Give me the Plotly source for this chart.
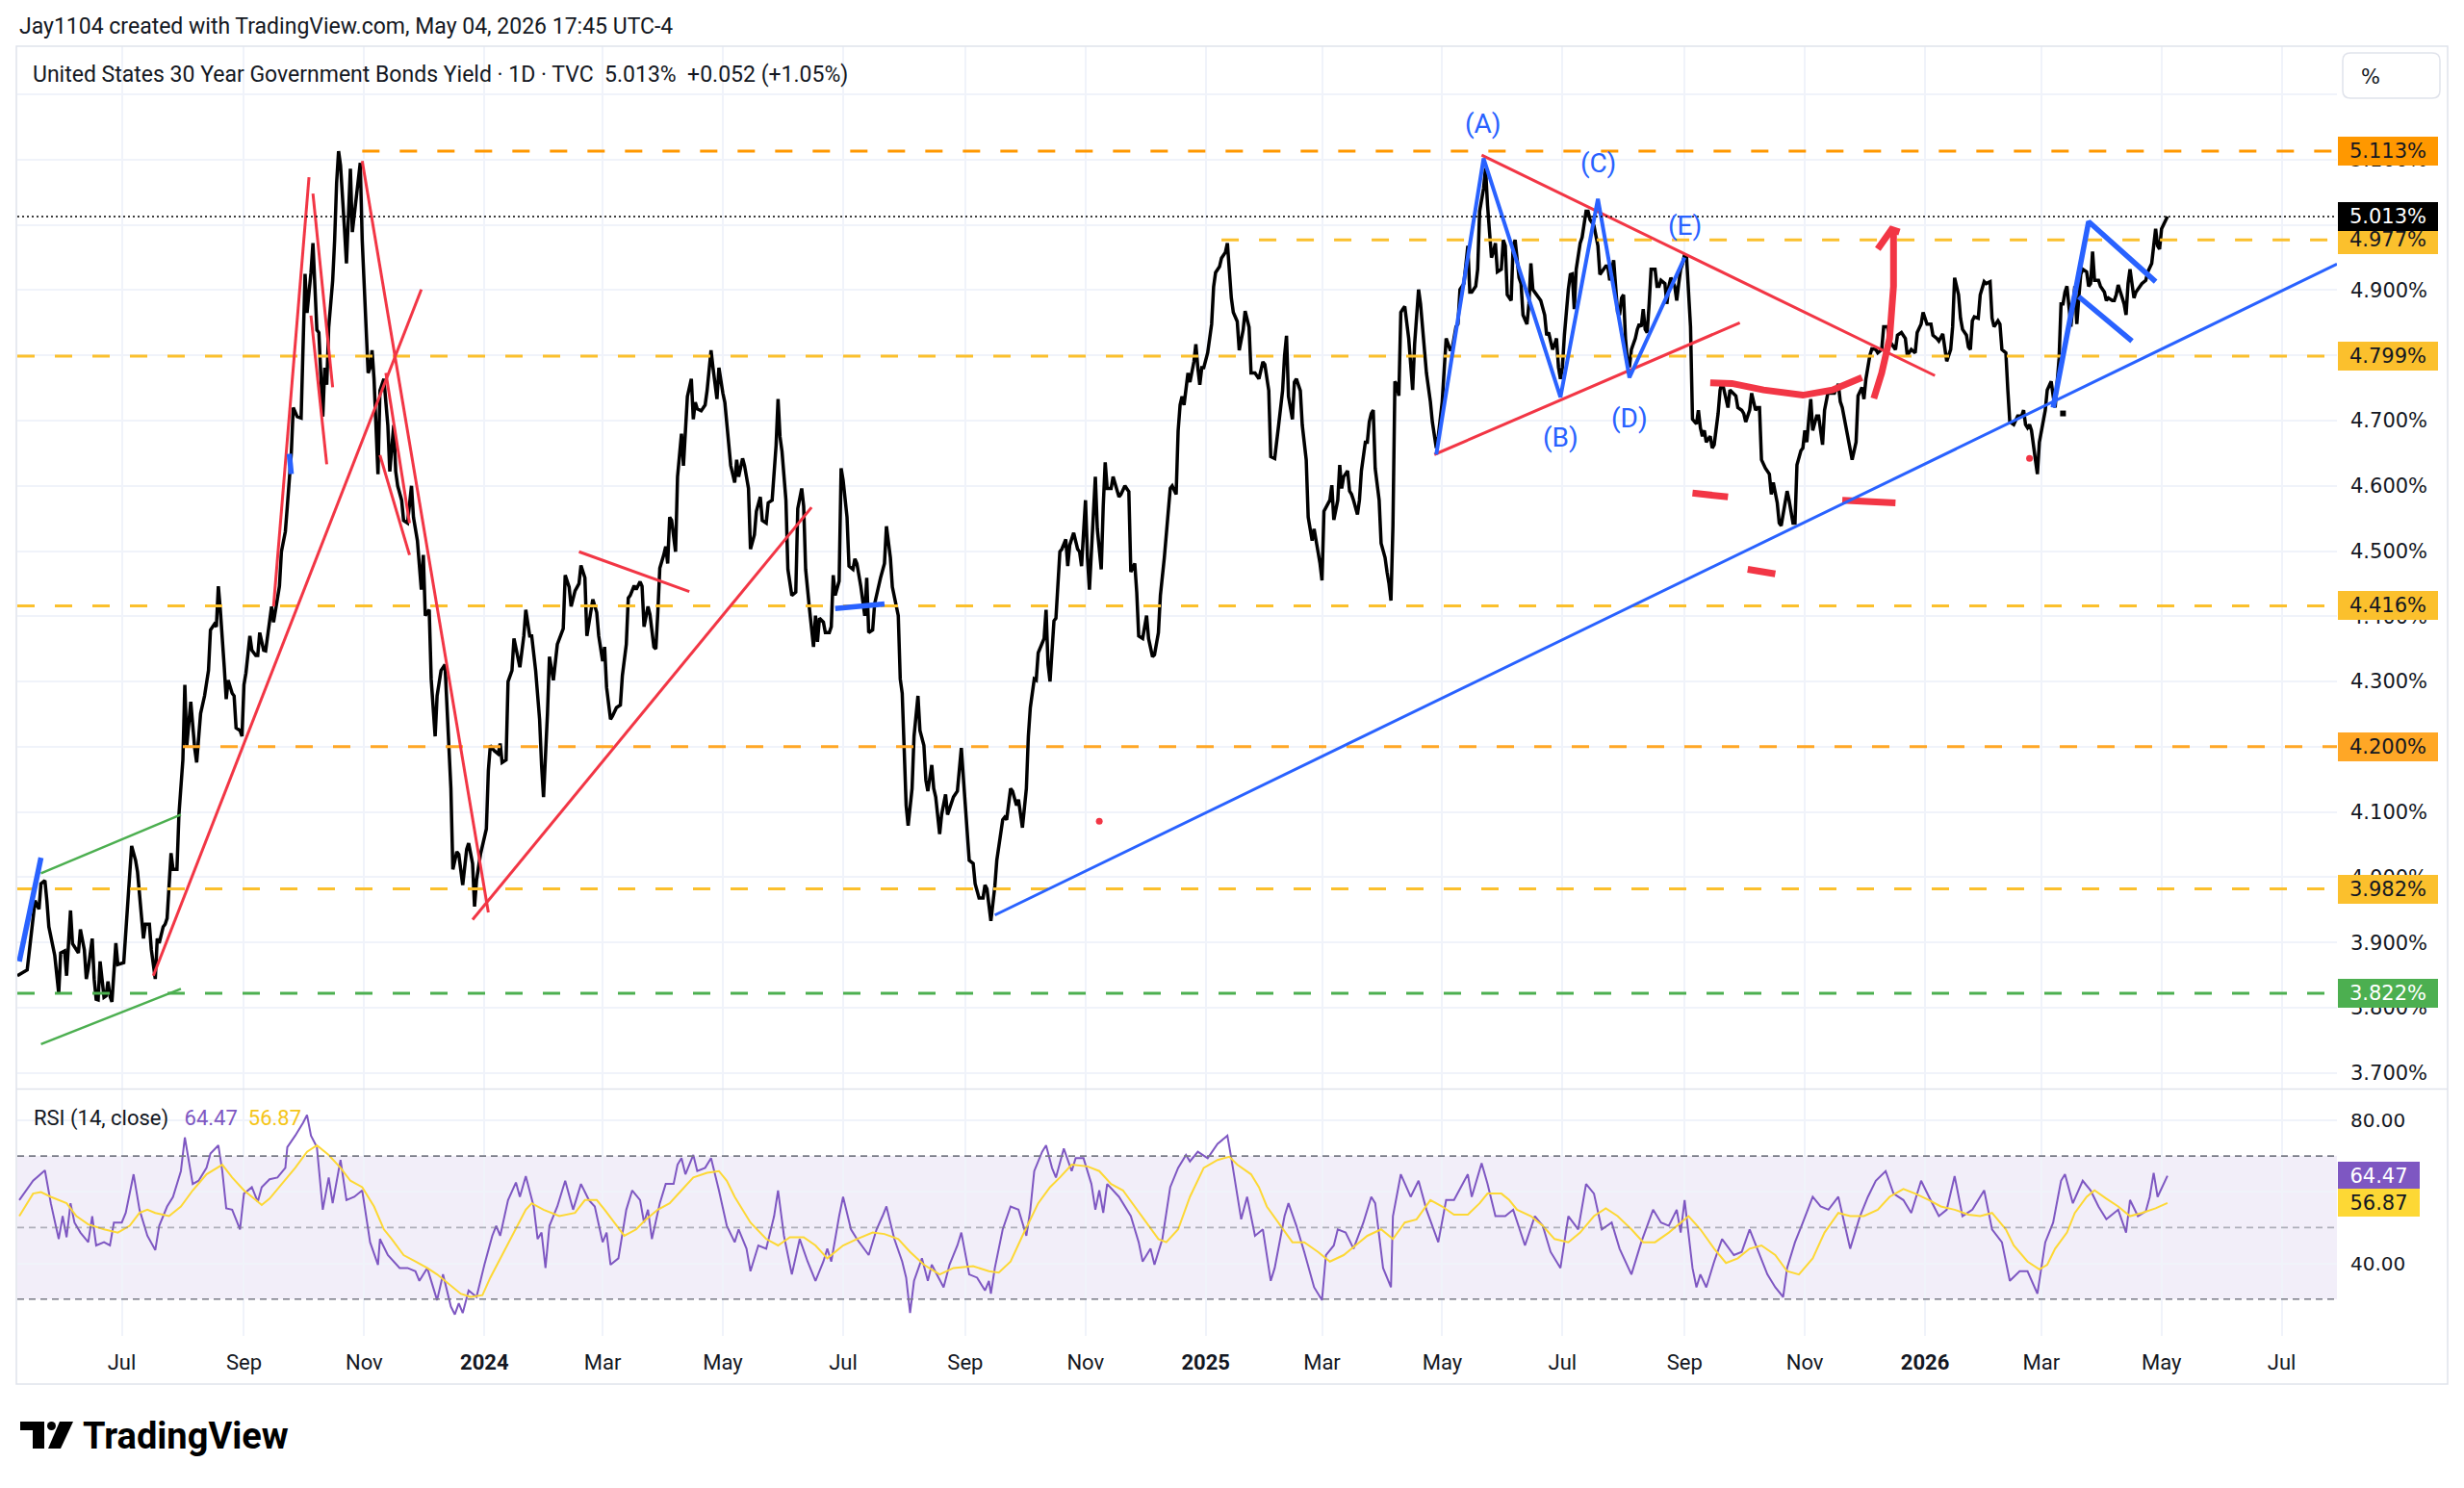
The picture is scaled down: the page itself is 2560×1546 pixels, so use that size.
import pandas as pd
import plotly.graph_objects as go

# ---------------------------------------------------------------------------
# data
# ---------------------------------------------------------------------------
# US 30Y yield (TVC), daily line - turning points
price_dates = [
    "2023-05-09", "2023-05-14", "2023-05-18", "2023-05-20", "2023-05-21", "2023-05-23", "2023-05-24", "2023-05-25",
    "2023-05-28", "2023-05-30", "2023-05-31", "2023-06-02", "2023-06-03", "2023-06-05", "2023-06-06", "2023-06-08",
    "2023-06-09", "2023-06-10", "2023-06-12", "2023-06-13", "2023-06-14", "2023-06-16", "2023-06-17", "2023-06-18",
    "2023-06-19", "2023-06-20", "2023-06-22", "2023-06-23", "2023-06-24", "2023-06-25", "2023-06-26", "2023-06-28",
    "2023-06-29", "2023-07-02", "2023-07-04", "2023-07-06", "2023-07-08", "2023-07-09", "2023-07-12", "2023-07-13",
    "2023-07-15", "2023-07-16", "2023-07-18", "2023-07-19", "2023-07-20", "2023-07-22", "2023-07-23", "2023-07-24",
    "2023-07-26", "2023-07-27", "2023-07-29", "2023-07-30", "2023-08-01", "2023-08-02", "2023-08-03", "2023-08-04",
    "2023-08-05", "2023-08-07", "2023-08-08", "2023-08-10", "2023-08-12", "2023-08-14", "2023-08-15", "2023-08-17",
    "2023-08-18", "2023-08-19", "2023-08-20", "2023-08-22", "2023-08-23", "2023-08-24", "2023-08-26", "2023-08-27",
    "2023-08-28", "2023-08-30", "2023-08-31", "2023-09-01", "2023-09-02", "2023-09-04", "2023-09-05", "2023-09-07",
    "2023-09-08", "2023-09-09", "2023-09-11", "2023-09-12", "2023-09-14", "2023-09-15", "2023-09-16", "2023-09-18",
    "2023-09-19", "2023-09-20", "2023-09-22", "2023-09-23", "2023-09-24", "2023-09-25", "2023-09-26", "2023-09-28",
    "2023-09-30", "2023-10-01", "2023-10-02", "2023-10-03", "2023-10-05", "2023-10-06", "2023-10-08", "2023-10-09",
    "2023-10-10", "2023-10-11", "2023-10-12", "2023-10-13", "2023-10-14", "2023-10-16", "2023-10-17", "2023-10-18",
    "2023-10-19", "2023-10-20", "2023-10-22", "2023-10-23", "2023-10-25", "2023-10-26", "2023-10-27", "2023-10-29",
    "2023-10-30", "2023-10-31", "2023-11-02", "2023-11-03", "2023-11-04", "2023-11-05", "2023-11-06", "2023-11-08",
    "2023-11-09", "2023-11-11", "2023-11-13", "2023-11-14", "2023-11-15", "2023-11-16", "2023-11-17", "2023-11-18",
    "2023-11-20", "2023-11-21", "2023-11-23", "2023-11-24", "2023-11-25", "2023-11-26", "2023-11-28", "2023-11-30",
    "2023-12-01", "2023-12-02", "2023-12-04", "2023-12-05", "2023-12-07", "2023-12-08", "2023-12-10", "2023-12-12",
    "2023-12-13", "2023-12-15", "2023-12-16", "2023-12-18", "2023-12-19", "2023-12-21", "2023-12-23", "2023-12-24",
    "2023-12-26", "2023-12-27", "2023-12-28", "2023-12-30", "2024-01-02", "2024-01-03", "2024-01-04", "2024-01-06",
    "2024-01-08", "2024-01-09", "2024-01-10", "2024-01-12", "2024-01-13", "2024-01-15", "2024-01-16", "2024-01-18",
    "2024-01-19", "2024-01-21", "2024-01-22", "2024-01-24", "2024-01-25", "2024-01-27", "2024-01-29", "2024-01-30",
    "2024-01-31", "2024-02-02", "2024-02-03", "2024-02-05", "2024-02-06", "2024-02-07", "2024-02-10", "2024-02-11",
    "2024-02-13", "2024-02-14", "2024-02-16", "2024-02-18", "2024-02-19", "2024-02-21", "2024-02-22", "2024-02-24",
    "2024-02-25", "2024-02-27", "2024-02-28", "2024-03-01", "2024-03-02", "2024-03-03", "2024-03-05", "2024-03-06",
    "2024-03-08", "2024-03-10", "2024-03-11", "2024-03-13", "2024-03-14", "2024-03-15", "2024-03-17", "2024-03-18",
    "2024-03-20", "2024-03-21", "2024-03-22", "2024-03-24", "2024-03-25", "2024-03-27", "2024-03-28", "2024-03-29",
    "2024-03-30", "2024-04-01", "2024-04-02", "2024-04-03", "2024-04-04", "2024-04-05", "2024-04-07", "2024-04-08",
    "2024-04-09", "2024-04-10", "2024-04-11", "2024-04-12", "2024-04-13", "2024-04-15", "2024-04-16", "2024-04-17",
    "2024-04-18", "2024-04-20", "2024-04-22", "2024-04-23", "2024-04-25", "2024-04-26", "2024-04-28", "2024-04-29",
    "2024-04-30", "2024-05-01", "2024-05-02", "2024-05-04", "2024-05-05", "2024-05-07", "2024-05-08", "2024-05-09",
    "2024-05-11", "2024-05-12", "2024-05-14", "2024-05-15", "2024-05-17", "2024-05-18", "2024-05-20", "2024-05-21",
    "2024-05-23", "2024-05-24", "2024-05-26", "2024-05-28", "2024-05-29", "2024-05-30", "2024-05-31", "2024-06-02",
    "2024-06-03", "2024-06-05", "2024-06-07", "2024-06-08", "2024-06-10", "2024-06-11", "2024-06-12", "2024-06-14",
    "2024-06-16", "2024-06-17", "2024-06-18", "2024-06-19", "2024-06-21", "2024-06-22", "2024-06-24", "2024-06-25",
    "2024-06-26", "2024-06-27", "2024-06-29", "2024-06-30", "2024-07-01", "2024-07-03", "2024-07-04", "2024-07-06",
    "2024-07-07", "2024-07-08", "2024-07-10", "2024-07-12", "2024-07-13", "2024-07-14", "2024-07-16", "2024-07-17",
    "2024-07-19", "2024-07-20", "2024-07-22", "2024-07-23", "2024-07-25", "2024-07-26", "2024-07-29", "2024-07-30",
    "2024-07-31", "2024-08-01", "2024-08-02", "2024-08-03", "2024-08-05", "2024-08-06", "2024-08-08", "2024-08-09",
    "2024-08-11", "2024-08-12", "2024-08-13", "2024-08-15", "2024-08-16", "2024-08-17", "2024-08-19", "2024-08-20",
    "2024-08-22", "2024-08-23", "2024-08-25", "2024-08-26", "2024-08-28", "2024-08-30", "2024-08-31", "2024-09-02",
    "2024-09-03", "2024-09-05", "2024-09-06", "2024-09-08", "2024-09-10", "2024-09-11", "2024-09-12", "2024-09-14",
    "2024-09-16", "2024-09-17", "2024-09-18", "2024-09-20", "2024-09-21", "2024-09-22", "2024-09-24", "2024-09-25",
    "2024-09-27", "2024-09-28", "2024-09-30", "2024-10-02", "2024-10-03", "2024-10-04", "2024-10-06", "2024-10-07",
    "2024-10-08", "2024-10-11", "2024-10-12", "2024-10-13", "2024-10-14", "2024-10-16", "2024-10-17", "2024-10-19",
    "2024-10-20", "2024-10-22", "2024-10-23", "2024-10-24", "2024-10-26", "2024-10-28", "2024-10-29", "2024-10-30",
    "2024-11-01", "2024-11-02", "2024-11-03", "2024-11-05", "2024-11-06", "2024-11-07", "2024-11-09", "2024-11-10",
    "2024-11-11", "2024-11-12", "2024-11-14", "2024-11-15", "2024-11-16", "2024-11-18", "2024-11-19", "2024-11-21",
    "2024-11-23", "2024-11-24", "2024-11-26", "2024-11-27", "2024-11-28", "2024-11-30", "2024-12-02", "2024-12-03",
    "2024-12-05", "2024-12-06", "2024-12-08", "2024-12-09", "2024-12-11", "2024-12-13", "2024-12-14", "2024-12-15",
    "2024-12-17", "2024-12-18", "2024-12-19", "2024-12-20", "2024-12-21", "2024-12-23", "2024-12-24", "2024-12-26",
    "2024-12-27", "2024-12-28", "2024-12-29", "2024-12-30", "2024-12-31", "2025-01-02", "2025-01-04", "2025-01-05",
    "2025-01-06", "2025-01-08", "2025-01-09", "2025-01-11", "2025-01-12", "2025-01-14", "2025-01-15", "2025-01-17",
    "2025-01-18", "2025-01-20", "2025-01-21", "2025-01-23", "2025-01-24", "2025-01-26", "2025-01-28", "2025-01-29",
    "2025-01-30", "2025-01-31", "2025-02-02", "2025-02-03", "2025-02-05", "2025-02-07", "2025-02-09", "2025-02-10",
    "2025-02-11", "2025-02-12", "2025-02-14", "2025-02-15", "2025-02-16", "2025-02-18", "2025-02-19", "2025-02-21",
    "2025-02-22", "2025-02-24", "2025-02-25", "2025-02-28", "2025-03-01", "2025-03-02", "2025-03-04", "2025-03-05",
    "2025-03-06", "2025-03-07", "2025-03-09", "2025-03-10", "2025-03-11", "2025-03-12", "2025-03-14", "2025-03-15",
    "2025-03-16", "2025-03-17", "2025-03-19", "2025-03-20", "2025-03-21", "2025-03-23", "2025-03-24", "2025-03-25",
    "2025-03-26", "2025-03-27", "2025-03-28", "2025-03-30", "2025-03-31", "2025-04-02", "2025-04-03", "2025-04-04",
    "2025-04-05", "2025-04-06", "2025-04-07", "2025-04-08", "2025-04-09", "2025-04-10", "2025-04-11", "2025-04-12",
    "2025-04-14", "2025-04-15", "2025-04-16", "2025-04-17", "2025-04-19", "2025-04-20", "2025-04-21", "2025-04-23",
    "2025-04-25", "2025-04-26", "2025-04-28", "2025-04-29", "2025-05-01", "2025-05-02", "2025-05-03", "2025-05-05",
    "2025-05-06", "2025-05-08", "2025-05-09", "2025-05-10", "2025-05-12", "2025-05-14", "2025-05-15", "2025-05-16",
    "2025-05-18", "2025-05-19", "2025-05-20", "2025-05-22", "2025-05-23", "2025-05-24", "2025-05-25", "2025-05-26",
    "2025-05-27", "2025-05-28", "2025-05-29", "2025-05-31", "2025-06-01", "2025-06-02", "2025-06-03", "2025-06-05",
    "2025-06-06", "2025-06-07", "2025-06-09", "2025-06-10", "2025-06-11", "2025-06-13", "2025-06-14", "2025-06-15",
    "2025-06-16", "2025-06-18", "2025-06-19", "2025-06-20", "2025-06-22", "2025-06-23", "2025-06-24", "2025-06-26",
    "2025-06-27", "2025-06-28", "2025-06-29", "2025-06-30", "2025-07-01", "2025-07-02", "2025-07-04", "2025-07-05",
    "2025-07-06", "2025-07-07", "2025-07-08", "2025-07-10", "2025-07-11", "2025-07-13", "2025-07-14", "2025-07-15",
    "2025-07-17", "2025-07-19", "2025-07-20", "2025-07-22", "2025-07-23", "2025-07-24", "2025-07-25", "2025-07-27",
    "2025-07-28", "2025-07-29", "2025-07-30", "2025-07-31", "2025-08-01", "2025-08-02", "2025-08-03", "2025-08-04",
    "2025-08-05", "2025-08-07", "2025-08-08", "2025-08-09", "2025-08-10", "2025-08-11", "2025-08-12", "2025-08-13",
    "2025-08-14", "2025-08-15", "2025-08-17", "2025-08-18", "2025-08-19", "2025-08-20", "2025-08-22", "2025-08-23",
    "2025-08-24", "2025-08-25", "2025-08-27", "2025-08-28", "2025-08-29", "2025-08-30", "2025-08-31", "2025-09-01",
    "2025-09-02", "2025-09-03", "2025-09-04", "2025-09-05", "2025-09-07", "2025-09-08", "2025-09-09", "2025-09-10",
    "2025-09-11", "2025-09-12", "2025-09-14", "2025-09-15", "2025-09-16", "2025-09-18", "2025-09-19", "2025-09-20",
    "2025-09-22", "2025-09-23", "2025-09-24", "2025-09-26", "2025-09-27", "2025-09-28", "2025-09-30", "2025-10-01",
    "2025-10-02", "2025-10-04", "2025-10-05", "2025-10-07", "2025-10-08", "2025-10-09", "2025-10-10", "2025-10-12",
    "2025-10-14", "2025-10-15", "2025-10-16", "2025-10-18", "2025-10-19", "2025-10-20", "2025-10-22", "2025-10-23",
    "2025-10-24", "2025-10-26", "2025-10-27", "2025-10-28", "2025-10-30", "2025-10-31", "2025-11-01", "2025-11-02",
    "2025-11-03", "2025-11-04", "2025-11-05", "2025-11-07", "2025-11-08", "2025-11-10", "2025-11-11", "2025-11-13",
    "2025-11-14", "2025-11-16", "2025-11-18", "2025-11-19", "2025-11-20", "2025-11-22", "2025-11-24", "2025-11-25",
    "2025-11-27", "2025-11-28", "2025-11-30", "2025-12-01", "2025-12-02", "2025-12-04", "2025-12-05", "2025-12-07",
    "2025-12-08", "2025-12-10", "2025-12-11", "2025-12-13", "2025-12-14", "2025-12-15", "2025-12-17", "2025-12-18",
    "2025-12-20", "2025-12-22", "2025-12-23", "2025-12-25", "2025-12-27", "2025-12-28", "2025-12-30", "2025-12-31",
    "2026-01-02", "2026-01-04", "2026-01-05", "2026-01-07", "2026-01-08", "2026-01-10", "2026-01-11", "2026-01-12",
    "2026-01-14", "2026-01-15", "2026-01-16", "2026-01-18", "2026-01-19", "2026-01-20", "2026-01-22", "2026-01-23",
    "2026-01-24", "2026-01-25", "2026-01-26", "2026-01-28", "2026-01-29", "2026-01-31", "2026-02-01", "2026-02-03",
    "2026-02-04", "2026-02-05", "2026-02-07", "2026-02-08", "2026-02-09", "2026-02-11", "2026-02-12", "2026-02-13",
    "2026-02-15", "2026-02-16", "2026-02-17", "2026-02-19", "2026-02-20", "2026-02-21", "2026-02-22", "2026-02-23",
    "2026-02-24", "2026-02-26", "2026-02-27", "2026-02-28", "2026-03-02", "2026-03-03", "2026-03-04", "2026-03-06",
    "2026-03-07", "2026-03-08", "2026-03-10", "2026-03-11", "2026-03-12", "2026-03-13", "2026-03-14", "2026-03-15",
    "2026-03-16", "2026-03-18", "2026-03-19", "2026-03-20", "2026-03-21", "2026-03-22", "2026-03-24", "2026-03-25",
    "2026-03-26", "2026-03-27", "2026-03-28", "2026-03-30", "2026-03-31", "2026-04-02", "2026-04-03", "2026-04-04",
    "2026-04-06", "2026-04-07", "2026-04-08", "2026-04-09", "2026-04-10", "2026-04-12", "2026-04-13", "2026-04-14",
    "2026-04-15", "2026-04-17", "2026-04-18", "2026-04-20", "2026-04-21", "2026-04-23", "2026-04-24", "2026-04-26",
    "2026-04-27", "2026-04-28", "2026-04-29", "2026-04-30", "2026-05-01", "2026-05-04",
]
price_yield = [
    3.849, 3.858, 3.964, 3.951, 3.990, 3.995, 3.964, 3.924,
    3.880, 3.822, 3.884, 3.887, 3.849, 3.949, 3.898, 3.887,
    3.884, 3.920, 3.889, 3.844, 3.860, 3.906, 3.844, 3.813,
    3.812, 3.871, 3.816, 3.818, 3.840, 3.818, 3.809, 3.899,
    3.866, 3.869, 3.964, 4.048, 4.026, 4.008, 3.906, 3.928,
    3.928, 3.889, 3.844, 3.906, 3.899, 3.924, 3.928, 3.937,
    4.037, 4.012, 4.012, 4.096, 4.180, 4.295, 4.202, 4.233,
    4.269, 4.198, 4.176, 4.251, 4.278, 4.317, 4.379, 4.388,
    4.384, 4.446, 4.410, 4.322, 4.273, 4.302, 4.282, 4.278,
    4.229, 4.225, 4.216, 4.295, 4.313, 4.370, 4.348, 4.340,
    4.340, 4.375, 4.348, 4.347, 4.394, 4.415, 4.391, 4.426,
    4.446, 4.499, 4.530, 4.569, 4.614, 4.649, 4.720, 4.706,
    4.704, 4.799, 4.925, 4.865, 4.927, 4.972, 4.839, 4.835,
    4.764, 4.706, 4.781, 4.755, 4.843, 4.914, 4.976, 5.064,
    5.113, 5.091, 4.994, 4.941, 5.086, 4.989, 5.016, 5.064,
    5.095, 4.976, 4.843, 4.773, 4.781, 4.808, 4.764, 4.618,
    4.746, 4.764, 4.693, 4.622, 4.658, 4.693, 4.622, 4.600,
    4.578, 4.547, 4.543, 4.569, 4.600, 4.552, 4.516, 4.441,
    4.494, 4.401, 4.410, 4.304, 4.216, 4.278, 4.317, 4.326,
    4.269, 4.136, 4.012, 4.039, 4.035, 3.988, 4.043, 4.052,
    4.021, 3.955, 3.995, 4.035, 4.074, 4.163, 4.202, 4.194,
    4.189, 4.205, 4.176, 4.180, 4.300, 4.317, 4.366, 4.335,
    4.322, 4.370, 4.410, 4.370, 4.370, 4.317, 4.242, 4.172,
    4.123, 4.251, 4.338, 4.302, 4.326, 4.357, 4.381, 4.463,
    4.445, 4.415, 4.439, 4.450, 4.478, 4.459, 4.370, 4.410,
    4.426, 4.406, 4.370, 4.331, 4.353, 4.291, 4.242, 4.247,
    4.260, 4.264, 4.309, 4.357, 4.428, 4.432, 4.447, 4.441,
    4.453, 4.446, 4.384, 4.415, 4.403, 4.353, 4.350, 4.406,
    4.474, 4.494, 4.507, 4.481, 4.552, 4.547, 4.499, 4.614,
    4.649, 4.680, 4.631, 4.689, 4.737, 4.764, 4.702, 4.728,
    4.718, 4.715, 4.724, 4.746, 4.808, 4.781, 4.733, 4.781,
    4.759, 4.742, 4.728, 4.667, 4.631, 4.605, 4.640, 4.614,
    4.642, 4.631, 4.596, 4.503, 4.525, 4.561, 4.583, 4.547,
    4.543, 4.574, 4.578, 4.662, 4.733, 4.675, 4.653, 4.578,
    4.472, 4.432, 4.437, 4.565, 4.596, 4.569, 4.472, 4.410,
    4.353, 4.401, 4.361, 4.397, 4.391, 4.375, 4.375, 4.384,
    4.463, 4.432, 4.454, 4.627, 4.609, 4.552, 4.477, 4.472,
    4.488, 4.481, 4.446, 4.401, 4.459, 4.375, 4.379, 4.419,
    4.450, 4.459, 4.481, 4.538, 4.490, 4.445, 4.401, 4.304,
    4.282, 4.180, 4.110, 4.079, 4.136, 4.216, 4.278, 4.225,
    4.202, 4.149, 4.132, 4.172, 4.136, 4.123, 4.066, 4.096,
    4.127, 4.096, 4.114, 4.123, 4.132, 4.198, 4.154, 4.066,
    4.026, 4.021, 3.990, 3.968, 3.968, 3.988, 3.982, 3.933,
    3.986, 4.026, 4.048, 4.088, 4.092, 4.088, 4.136, 4.132,
    4.110, 4.119, 4.076, 4.136, 4.216, 4.260, 4.304, 4.302,
    4.344, 4.366, 4.410, 4.326, 4.300, 4.393, 4.397, 4.499,
    4.503, 4.518, 4.477, 4.509, 4.528, 4.503, 4.499, 4.477,
    4.578, 4.490, 4.441, 4.543, 4.614, 4.534, 4.472, 4.569,
    4.636, 4.596, 4.596, 4.614, 4.605, 4.583, 4.587, 4.600,
    4.591, 4.468, 4.481, 4.437, 4.370, 4.366, 4.401, 4.366,
    4.338, 4.341, 4.375, 4.432, 4.490, 4.552, 4.596, 4.600,
    4.587, 4.684, 4.724, 4.737, 4.724, 4.773, 4.759, 4.790,
    4.817, 4.781, 4.755, 4.781, 4.781, 4.804, 4.848, 4.905,
    4.927, 4.936, 4.949, 4.958, 4.972, 4.888, 4.866, 4.852,
    4.808, 4.839, 4.868, 4.843, 4.773, 4.773, 4.764, 4.777,
    4.790, 4.786, 4.746, 4.645, 4.642, 4.693, 4.746, 4.799,
    4.830, 4.737, 4.702, 4.759, 4.764, 4.746, 4.693, 4.640,
    4.552, 4.516, 4.534, 4.481, 4.455, 4.561, 4.574, 4.578,
    4.601, 4.548, 4.578, 4.632, 4.596, 4.614, 4.623, 4.592,
    4.587, 4.578, 4.556, 4.578, 4.623, 4.667, 4.667, 4.698,
    4.711, 4.716, 4.627, 4.578, 4.512, 4.490, 4.468, 4.450,
    4.424, 4.539, 4.760, 4.755, 4.738, 4.866, 4.871, 4.875,
    4.826, 4.782, 4.747, 4.817, 4.901, 4.879, 4.840, 4.773,
    4.729, 4.698, 4.658, 4.676, 4.729, 4.782, 4.826, 4.809,
    4.809, 4.844, 4.848, 4.901, 4.910, 4.968, 4.897, 4.897,
    4.906, 4.932, 5.021, 5.056, 5.087, 5.030, 4.986, 4.950,
    4.959, 4.972, 4.928, 4.932, 4.977, 4.968, 4.893, 4.884,
    4.968, 4.977, 4.919, 4.910, 4.862, 4.848, 4.879, 4.941,
    4.901, 4.893, 4.888, 4.884, 4.862, 4.831, 4.835, 4.809,
    4.817, 4.826, 4.782, 4.764, 4.782, 4.831, 4.901, 4.924,
    4.925, 4.871, 4.932, 4.972, 4.981, 5.021, 5.021, 5.008,
    4.999, 4.968, 4.924, 4.932, 4.937, 4.937, 4.915, 4.946,
    4.906, 4.866, 4.862, 4.888, 4.893, 4.826, 4.791, 4.782,
    4.809, 4.826, 4.840, 4.848, 4.844, 4.871, 4.840, 4.835,
    4.879, 4.932, 4.932, 4.906, 4.906, 4.915, 4.910, 4.879,
    4.906, 4.919, 4.906, 4.884, 4.910, 4.932, 4.941, 4.955,
    4.950, 4.897, 4.844, 4.702, 4.695, 4.716, 4.689, 4.676,
    4.685, 4.667, 4.676, 4.658, 4.663, 4.711, 4.747, 4.760,
    4.729, 4.720, 4.747, 4.742, 4.738, 4.720, 4.716, 4.711,
    4.698, 4.716, 4.742, 4.716, 4.720, 4.720, 4.640, 4.627,
    4.618, 4.587, 4.605, 4.574, 4.543, 4.539, 4.578, 4.592,
    4.578, 4.543, 4.543, 4.632, 4.654, 4.658, 4.685, 4.667,
    4.702, 4.733, 4.685, 4.707, 4.707, 4.663, 4.716, 4.747,
    4.742, 4.742, 4.756, 4.729, 4.720, 4.689, 4.654, 4.640,
    4.667, 4.738, 4.751, 4.733, 4.764, 4.800, 4.810, 4.809,
    4.804, 4.809, 4.844, 4.844, 4.822, 4.817, 4.809, 4.831,
    4.835, 4.826, 4.800, 4.809, 4.804, 4.835, 4.848, 4.866,
    4.848, 4.848, 4.831, 4.826, 4.822, 4.833, 4.809, 4.791,
    4.809, 4.844, 4.919, 4.893, 4.857, 4.840, 4.831, 4.813,
    4.809, 4.853, 4.859, 4.857, 4.893, 4.913, 4.910, 4.913,
    4.857, 4.844, 4.853, 4.848, 4.809, 4.804, 4.747, 4.698,
    4.694, 4.702, 4.707, 4.707, 4.716, 4.694, 4.689, 4.694,
    4.685, 4.640, 4.618, 4.667, 4.698, 4.716, 4.747, 4.760,
    4.738, 4.720, 4.795, 4.879, 4.879, 4.897, 4.906, 4.879,
    4.844, 4.906, 4.848, 4.888, 4.924, 4.932, 4.928, 4.906,
    4.910, 4.959, 4.915, 4.915, 4.906, 4.897, 4.884, 4.888,
    4.884, 4.884, 4.893, 4.908, 4.897, 4.879, 4.862, 4.910,
    4.932, 4.888, 4.897, 4.906, 4.910, 4.915, 4.928, 4.941,
    4.972, 4.994, 4.968, 4.963, 4.994, 5.013,
]

# RSI(14, close) and its yellow moving average; x = days after RSI_START
RSI_START = "2023-05-12"
rsi_days = [
    -2, 5, 11, 14, 18, 20, 22, 24, 26, 29,
    33, 35, 37, 41, 44, 46, 50, 52, 56, 59,
    63, 67, 69, 73, 76, 80, 82, 84, 86, 89,
    93, 95, 99, 101, 103, 106, 110, 112, 116, 119,
    121, 125, 129, 133, 134, 138, 142, 144, 146, 149,
    152, 155, 157, 161, 164, 168, 172, 176, 180, 181,
    185, 191, 195, 199, 201, 205, 209, 210, 213, 217,
    219, 221, 223, 226, 230, 234, 238, 240, 242, 246,
    250, 252, 255, 259, 261, 263, 265, 267, 271, 275,
    279, 283, 287, 290, 294, 296, 298, 302, 306, 309,
    313, 315, 317, 319, 323, 326, 330, 332, 334, 336,
    340, 342, 346, 349, 353, 357, 361, 363, 367, 369,
    373, 377, 381, 383, 386, 390, 394, 398, 402, 406,
    408, 410, 414, 416, 420, 423, 429, 433, 436, 438,
    442, 446, 448, 450, 452, 456, 459, 461, 467, 470,
    474, 476, 480, 484, 488, 490, 491, 493, 497, 501,
    505, 509, 511, 513, 517, 519, 522, 524, 528, 532,
    534, 538, 542, 544, 546, 548, 550, 556, 562, 566,
    568, 572, 574, 578, 582, 586, 590, 592, 596, 601,
    606, 611, 613, 616, 618, 621, 625, 629, 633, 635,
    640, 642, 646, 650, 655, 659, 661, 665, 667, 671,
    675, 680, 684, 686, 690, 694, 695, 699, 704, 708,
    712, 718, 722, 726, 733, 735, 740, 743, 747, 752,
    756, 762, 767, 771, 775, 780, 784, 789, 793, 797,
    801, 806, 810, 816, 821, 827, 831, 835, 839, 841,
    843, 847, 849, 851, 854, 858, 862, 868, 872, 876,
    880, 885, 889, 893, 895, 899, 903, 908, 912, 916,
    921, 927, 932, 936, 940, 945, 949, 954, 958, 963,
    967, 972, 976, 980, 984, 989, 995, 999, 1004, 1008,
    1013, 1017, 1022, 1026, 1030, 1034, 1036, 1040, 1045, 1049,
    1053, 1057, 1063, 1067, 1069, 1073, 1077, 1079, 1081, 1083,
    1088,
]
rsi_values = [
    57.7, 63.1, 66.0, 56.8, 46.8, 53.2, 47.3, 56.8, 51.4, 48.6,
    45.9, 53.2, 45.0, 45.9, 45.0, 51.4, 51.4, 54.1, 64.9, 55.0,
    47.7, 43.7, 50.5, 55.9, 58.6, 65.8, 75.2, 68.5, 62.2, 63.1,
    66.7, 70.7, 73.0, 65.8, 55.4, 55.0, 49.5, 59.5, 61.3, 57.2,
    61.3, 63.5, 64.0, 66.7, 72.5, 75.7, 79.3, 81.5, 75.7, 72.5,
    55.0, 64.0, 56.8, 68.9, 57.7, 58.6, 60.4, 45.9, 39.6, 46.8,
    42.3, 38.7, 38.7, 37.8, 35.1, 38.7, 31.5, 29.7, 36.9, 27.9,
    25.7, 28.8, 26.1, 32.4, 30.6, 39.6, 47.7, 50.5, 47.7, 57.7,
    62.6, 58.6, 64.4, 55.9, 46.8, 48.6, 38.7, 50.5, 55.9, 63.1,
    55.0, 62.2, 57.7, 55.9, 45.9, 48.6, 39.6, 41.4, 55.0, 60.4,
    57.7, 51.4, 55.0, 46.8, 56.8, 62.2, 62.2, 67.6, 69.4, 64.9,
    70.3, 65.8, 66.7, 69.4, 60.4, 50.5, 45.9, 49.5, 44.1, 37.8,
    45.0, 44.1, 53.2, 60.4, 47.7, 36.9, 46.8, 40.5, 35.1, 40.5,
    44.1, 40.5, 53.2, 58.6, 49.5, 46.8, 42.3, 49.5, 53.2, 55.9,
    46.8, 40.5, 36.0, 26.1, 35.1, 41.4, 35.1, 39.6, 33.3, 39.6,
    45.0, 48.6, 36.9, 36.0, 32.4, 35.1, 31.5, 38.7, 49.5, 55.9,
    55.0, 47.7, 55.0, 65.8, 71.2, 73.0, 66.7, 64.0, 72.1, 65.8,
    69.4, 69.4, 62.2, 55.0, 60.4, 54.1, 62.2, 58.6, 53.2, 45.9,
    40.5, 44.1, 39.6, 46.8, 61.3, 66.7, 70.3, 68.5, 71.2, 69.4,
    73.4, 75.7, 69.4, 58.6, 52.3, 58.6, 47.7, 49.5, 35.1, 38.7,
    53.2, 56.8, 50.5, 43.2, 33.3, 29.7, 42.3, 45.0, 49.5, 48.6,
    44.1, 51.4, 58.6, 56.8, 38.7, 33.3, 53.2, 64.9, 58.6, 63.1,
    55.0, 45.9, 57.7, 57.7, 64.9, 58.6, 68.0, 62.2, 53.2, 53.2,
    55.0, 45.0, 53.2, 50.5, 43.2, 38.7, 53.2, 49.5, 62.2, 59.5,
    49.5, 51.4, 44.1, 36.9, 45.9, 55.0, 51.4, 50.5, 55.0, 48.6,
    57.7, 38.7, 33.3, 36.9, 33.3, 40.5, 46.8, 42.3, 43.2, 49.5,
    44.1, 36.9, 33.3, 30.6, 38.7, 45.9, 51.4, 58.6, 55.9, 55.0,
    58.6, 44.1, 53.2, 58.6, 63.1, 65.8, 59.5, 57.7, 54.1, 63.1,
    58.6, 53.2, 55.0, 64.4, 53.2, 55.0, 60.4, 49.5, 45.9, 35.1,
    37.8, 37.8, 31.5, 45.9, 51.4, 63.1, 64.9, 56.8, 63.1, 60.4,
    55.9, 52.3, 55.0, 48.6, 57.7, 53.2, 54.5, 58.6, 65.3, 58.6,
    64.47,
]
ma_days = [
    -2, 5, 9, 14, 22, 27, 33, 41, 48, 54,
    59, 63, 67, 74, 80, 86, 93, 101, 106, 112,
    118, 121, 125, 131, 138, 144, 149, 155, 161, 166,
    172, 178, 183, 187, 193, 199, 205, 210, 216, 222,
    227, 233, 237, 243, 249, 255, 258, 264, 272, 280,
    285, 291, 295, 301, 305, 311, 316, 322, 328, 334,
    340, 347, 353, 357, 361, 369, 377, 383, 389, 396,
    402, 408, 416, 423, 431, 437, 444, 450, 457, 465,
    472, 482, 490, 495, 501, 507, 515, 521, 526, 532,
    540, 546, 552, 558, 564, 570, 576, 580, 586, 592,
    599, 606, 612, 616, 623, 627, 631, 638, 644, 650,
    657, 663, 670, 676, 682, 689, 695, 701, 707, 714,
    720, 726, 733, 739, 743, 750, 754, 758, 765, 771,
    777, 784, 790, 797, 803, 809, 816, 822, 828, 835,
    841, 845, 851, 858, 864, 870, 876, 882, 889, 895,
    901, 908, 914, 921, 927, 934, 941, 947, 954, 960,
    967, 973, 980, 987, 993, 999, 1006, 1010, 1017, 1023,
    1027, 1031, 1037, 1041, 1047, 1051, 1057, 1063, 1069, 1075,
    1082, 1088,
]
ma_values = [
    53.2, 59.5, 59.9, 58.6, 56.8, 53.2, 50.9, 49.5, 48.6, 50.5,
    54.1, 55.0, 54.1, 53.2, 55.9, 60.4, 64.9, 67.6, 64.0, 60.4,
    57.7, 56.3, 58.1, 62.2, 66.7, 71.2, 73.0, 70.3, 66.7, 63.1,
    61.3, 55.9, 49.5, 46.8, 42.3, 40.5, 38.7, 36.9, 34.2, 31.5,
    30.6, 31.1, 36.0, 42.3, 48.6, 55.0, 56.8, 55.0, 53.2, 54.1,
    57.7, 57.7, 55.0, 50.5, 47.7, 49.5, 52.3, 55.0, 56.8, 60.4,
    64.0, 65.3, 65.8, 63.1, 58.6, 51.4, 46.8, 45.0, 47.3, 47.3,
    45.0, 41.4, 45.0, 46.8, 48.6, 48.2, 46.8, 43.2, 39.6, 36.9,
    38.7, 39.2, 37.8, 37.4, 40.5, 47.7, 56.8, 61.3, 64.0, 67.6,
    67.1, 65.8, 62.2, 60.4, 55.9, 51.4, 46.8, 45.9, 49.5, 58.6,
    66.7, 68.9, 69.8, 67.6, 64.9, 61.3, 55.9, 50.5, 45.9, 45.9,
    43.2, 40.5, 42.3, 45.0, 47.7, 49.5, 46.8, 51.4, 52.3, 57.7,
    55.9, 53.6, 53.6, 56.8, 59.5, 59.5, 57.7, 55.0, 53.2, 50.5,
    46.8, 45.9, 48.6, 53.2, 55.4, 53.2, 49.5, 45.9, 45.9, 48.6,
    51.4, 53.2, 49.5, 44.1, 40.1, 41.4, 44.1, 45.0, 42.3, 37.8,
    36.9, 41.4, 48.6, 54.1, 53.2, 53.2, 55.0, 58.6, 60.8, 59.5,
    57.7, 55.9, 55.0, 53.6, 53.2, 54.1, 49.5, 45.0, 40.5, 38.3,
    39.6, 44.1, 48.6, 54.1, 58.6, 60.4, 58.1, 55.9, 53.2, 54.1,
    55.4, 56.87,
]

last_close = 5.013
rsi_last = 64.47
ma_last = 56.87
rsi_bands = [30, 50, 70]

# horizontal levels and where each one starts
level_values = [5.113, 4.977, 4.799, 4.416, 4.200, 3.982, 3.822]
level_starts = ["2023-10-31", "2025-01-09", "2023-05-09", "2023-05-09",
                "2023-08-01", "2023-05-09", "2023-05-09"]

# axes
X_RANGE = ["2023-05-09", "2026-07-29"]
month_ticks = ["2023-07-01", "2023-09-01", "2023-11-01", "2024-01-01", "2024-03-01",
               "2024-05-01", "2024-07-01", "2024-09-01", "2024-11-01", "2025-01-01",
               "2025-03-01", "2025-05-01", "2025-07-01", "2025-09-01", "2025-11-01",
               "2026-01-01", "2026-03-01", "2026-05-01", "2026-07-01"]
month_labels = ["Jul", "Sep", "Nov", "<b>2024</b>", "Mar", "May", "Jul", "Sep", "Nov",
                "<b>2025</b>", "Mar", "May", "Jul", "Sep", "Nov", "<b>2026</b>",
                "Mar", "May", "Jul"]
# labels fully covered by a level badge on the reference are left blank
price_ticks = [3.7, 3.8, 3.9, 4.0, 4.1, 4.2, 4.3, 4.4, 4.5, 4.6, 4.7, 4.8, 4.9, 5.0, 5.1, 5.2]
price_tick_labels = ["3.700%", "3.800%", "3.900%", "4.000%", "4.100%", "", "4.300%",
                     "4.400%", "4.500%", "4.600%", "4.700%", "", "4.900%", "",
                     "5.100%", ""]
rsi_ticks = [40, 60, 80]
rsi_tick_labels = ["40.00", "", "80.00"]

# hand drawn lines on the chart (date, yield)
red_lines = [
    [("2023-09-16", 4.415), ("2023-10-04", 5.073)],
    [("2023-10-06", 5.048), ("2023-10-16", 4.751)],
    [("2023-10-05", 4.861), ("2023-10-13", 4.633)],
    [("2023-07-17", 3.849), ("2023-11-30", 4.901)],
    [("2023-10-31", 5.098), ("2024-01-03", 3.946)],
    [("2023-11-12", 4.773), ("2023-11-24", 4.543)],
    [("2023-11-09", 4.647), ("2023-11-24", 4.494)],
    [("2023-12-26", 3.935), ("2024-06-15", 4.567)],
    [("2024-02-18", 4.499), ("2024-04-14", 4.438)],
    [("2025-05-21", 5.107), ("2026-01-06", 4.769)],
    [("2025-04-27", 4.648), ("2025-09-29", 4.850)],
]
red_marker_strokes = [
    [("2025-09-14", 4.758), ("2025-09-25", 4.757), ("2025-10-11", 4.747),
     ("2025-10-31", 4.739), ("2025-11-15", 4.747), ("2025-11-30", 4.766)],
    [("2025-12-06", 4.734), ("2025-12-10", 4.773), ("2025-12-14", 4.826),
     ("2025-12-16", 4.906), ("2025-12-16", 4.988)],
    [("2025-12-08", 4.963), ("2025-12-15", 4.993), ("2025-12-19", 4.989)],
    [("2025-09-05", 4.589), ("2025-09-23", 4.583)],
    [("2025-10-03", 4.472), ("2025-10-17", 4.465)],
    [("2025-11-20", 4.578), ("2025-12-17", 4.574)],
]
red_dots = [("2024-11-08", 4.086), ("2026-02-23", 4.642)]
black_dots = [("2026-03-12", 4.711)]
green_lines = [
    [("2023-05-21", 4.006), ("2023-07-31", 4.096)],
    [("2023-05-21", 3.744), ("2023-07-31", 3.829)],
]
blue_thin = [
    [("2024-09-16", 3.942), ("2026-07-29", 4.940)],
]
blue_thick = [
    [("2023-05-10", 3.871), ("2023-05-21", 4.030)],
    [("2023-09-24", 4.649), ("2023-09-25", 4.618)],
    [("2024-06-27", 4.412), ("2024-07-22", 4.419)],
    [("2026-03-07", 4.720), ("2026-03-25", 5.005), ("2026-04-28", 4.913)],
    [("2026-03-20", 4.890), ("2026-04-16", 4.822)],
]
wave_path = [("2025-04-28", 4.648), ("2025-05-22", 5.102), ("2025-06-30", 4.736),
             ("2025-07-19", 5.040), ("2025-08-04", 4.766), ("2025-09-01", 4.950)]
wave_labels = ["(A)", "(B)", "(C)", "(D)", "(E)"]
wave_label_dates = ["2025-05-22", "2025-06-30", "2025-07-19", "2025-08-04", "2025-09-01"]
wave_label_values = [5.155, 4.674, 5.094, 4.704, 4.999]

assert len(price_dates) == len(price_yield)
assert len(rsi_days) == len(rsi_values)
assert len(ma_days) == len(ma_values)

# ---------------------------------------------------------------------------
# styling
# ---------------------------------------------------------------------------
TEXT = "#131722"
GRID = "#F0F3FA"
BORDER = "#E0E3EB"
RED = "#F23645"
BLUE = "#2962FF"
GREEN = "#4CAF50"
PURPLE = "#7E57C2"
YELLOW = "#FDD835"
FONT = "Roboto, 'Noto Sans', sans-serif"
NUM_FONT = "'DejaVu Sans', sans-serif"
level_colors = ["#FF9800", "#FBC02D", "#FBC02D", "#FBC02D", "#FFA726", "#FBC02D", GREEN]
level_text = [TEXT, TEXT, TEXT, TEXT, TEXT, TEXT, "white"]

W, H = 2560, 1546
LEFT, RIGHT, TOP, BOTTOM = 18, 2428, 48, 1388
FRAME_RIGHT = 2543


def px(x):
    return (x - LEFT) / (RIGHT - LEFT)


def py(y):
    return (BOTTOM - y) / (BOTTOM - TOP)


def to_dt(values):
    return [pd.Timestamp(v) for v in values]


def add_path(points, color, width, xa="x", ya="y"):
    fig.add_trace(go.Scatter(
        x=to_dt([p[0] for p in points]), y=[p[1] for p in points],
        mode="lines", line=dict(color=color, width=width), xaxis=xa, yaxis=ya,
        hoverinfo="skip", showlegend=False))


fig = go.Figure()

# price line
fig.add_trace(go.Scatter(x=to_dt(price_dates), y=price_yield, mode="lines",
                         line=dict(color="#000000", width=3.5), hoverinfo="skip",
                         showlegend=False, xaxis="x", yaxis="y"))

# dashed levels
for v, start, col in zip(level_values, level_starts, level_colors):
    fig.add_trace(go.Scatter(x=to_dt([start, X_RANGE[1]]), y=[v, v], mode="lines",
                             line=dict(color=col, width=3, dash="18px,21px"),
                             hoverinfo="skip", showlegend=False, xaxis="x", yaxis="y"))

# drawings
for seg in green_lines:
    add_path(seg, GREEN, 2.5)
for seg in red_lines:
    add_path(seg, RED, 3)
for seg in red_marker_strokes:
    add_path(seg, RED, 7)
for seg in blue_thin:
    add_path(seg, BLUE, 3)
add_path(wave_path, BLUE, 4)
for seg in blue_thick:
    add_path(seg, BLUE, 5.5)
fig.add_trace(go.Scatter(x=to_dt([d for d, _ in red_dots]), y=[v for _, v in red_dots],
                         mode="markers", marker=dict(color=RED, size=7), hoverinfo="skip",
                         showlegend=False, xaxis="x", yaxis="y"))
fig.add_trace(go.Scatter(x=to_dt([d for d, _ in black_dots]), y=[v for _, v in black_dots],
                         mode="markers", marker=dict(color="#000000", size=6, symbol="square"),
                         hoverinfo="skip", showlegend=False, xaxis="x", yaxis="y"))

for lab, d, v in zip(wave_labels, wave_label_dates, wave_label_values):
    fig.add_annotation(x=pd.Timestamp(d), y=v, xref="x", yref="y", text=lab, showarrow=False,
                       font=dict(family=FONT, size=28, color=BLUE))

# RSI pane
start = pd.Timestamp(RSI_START)
fig.add_trace(go.Scatter(x=start + pd.to_timedelta(rsi_days, unit="D"), y=rsi_values, mode="lines",
                         line=dict(color=PURPLE, width=2), hoverinfo="skip", showlegend=False,
                         xaxis="x2", yaxis="y2"))
fig.add_trace(go.Scatter(x=start + pd.to_timedelta(ma_days, unit="D"), y=ma_values, mode="lines",
                         line=dict(color=YELLOW, width=2), hoverinfo="skip", showlegend=False,
                         xaxis="x2", yaxis="y2"))

fig.add_shape(type="rect", xref="x2 domain", x0=0, x1=1, yref="y2", y0=rsi_bands[0], y1=rsi_bands[2],
              fillcolor="rgba(126,87,194,0.1)", line_width=0, layer="below")
for lvl, col in zip(rsi_bands, ["#787B86", "rgba(120,123,134,0.55)", "#787B86"]):
    fig.add_shape(type="line", xref="x2 domain", x0=0, x1=1, yref="y2", y0=lvl, y1=lvl,
                  line=dict(color=col, width=1.6, dash="7px,5px"))

# last close dotted line
fig.add_shape(type="line", xref="x domain", x0=0, x1=1, yref="y", y0=last_close, y1=last_close,
              line=dict(color="#000000", width=1.5, dash="2px,3px"))

# frame, pane separator, "%" button (rounded)
fig.add_shape(type="rect", xref="paper", yref="paper", x0=px(17), x1=px(FRAME_RIGHT), y0=py(1438),
              y1=py(48), line=dict(color=BORDER, width=1.5))
fig.add_shape(type="line", xref="paper", yref="paper", x0=px(17), x1=px(FRAME_RIGHT), y0=py(1131.5),
              y1=py(1131.5), line=dict(color=BORDER, width=1.5))
bx0, bx1, by0, by1, r = 2434, 2535, 55, 102, 8
fig.add_shape(type="path", xref="paper", yref="paper", fillcolor="white",
              line=dict(color=BORDER, width=1.5),
              path=(f"M {px(bx0 + r)} {py(by0)} L {px(bx1 - r)} {py(by0)} "
                    f"Q {px(bx1)} {py(by0)} {px(bx1)} {py(by0 + r)} L {px(bx1)} {py(by1 - r)} "
                    f"Q {px(bx1)} {py(by1)} {px(bx1 - r)} {py(by1)} L {px(bx0 + r)} {py(by1)} "
                    f"Q {px(bx0)} {py(by1)} {px(bx0)} {py(by1 - r)} L {px(bx0)} {py(by0 + r)} "
                    f"Q {px(bx0)} {py(by0)} {px(bx0 + r)} {py(by0)} Z"))
fig.add_annotation(xref="paper", yref="paper", x=px(2451), y=py(80), text="%", showarrow=False,
                   xanchor="left", yanchor="middle", font=dict(family=NUM_FONT, size=21, color=TEXT))


# price badges on the axis
def badge(value, text, bg, fg, yref="y", left=2429, width=104, height=28):
    fig.add_annotation(xref="paper", yref=yref, x=px(left + width / 2), y=value, text=text,
                       showarrow=False, xanchor="center", yanchor="middle", align="center",
                       bgcolor=bg, borderwidth=0, borderpad=1, width=width - 2, height=height,
                       font=dict(family=NUM_FONT, size=21, color=fg))


for v, col, fg in zip(level_values, level_colors, level_text):
    badge(v, f"{v:.3f}%", col, fg)
badge(last_close, f"{last_close:.3f}%", "#000000", "white")
badge(rsi_last, f"{rsi_last:.2f}", PURPLE, "white", yref="y2", left=2429, width=85, height=27)
badge(ma_last, f"{ma_last:.2f}", YELLOW, TEXT, yref="y2", left=2429, width=85, height=27)

# texts
fig.add_annotation(xref="paper", yref="paper", x=px(18), y=py(28), xanchor="left", yanchor="middle",
                   showarrow=False, text="Jay1104 created with TradingView.com, May 04, 2026 17:45 UTC-4",
                   font=dict(family=FONT, size=23, color=TEXT))
fig.add_annotation(xref="paper", yref="paper", x=px(32), y=py(77), xanchor="left", yanchor="middle",
                   showarrow=False,
                   text="United States 30 Year Government Bonds Yield · 1D · TVC\u00a0\u00a05.013%"
                        "\u00a0\u00a0+0.052 (+1.05%)",
                   font=dict(family=FONT, size=23, color=TEXT))
fig.add_annotation(xref="paper", yref="paper", x=px(33), y=py(1162), xanchor="left", yanchor="middle",
                   showarrow=False,
                   text=f"RSI (14, close)\u00a0\u00a0\u00a0<span style='color:{PURPLE}'>{rsi_last:.2f}</span>"
                        f"\u00a0\u00a0<span style='color:#F5C518'>{ma_last:.2f}</span>",
                   font=dict(family=FONT, size=22, color=TEXT))

# TradingView logo
fig.add_shape(type="rect", xref="paper", yref="paper", x0=px(21), x1=px(46), y0=py(1486), y1=py(1477),
              fillcolor="#000000", line_width=0)
fig.add_shape(type="rect", xref="paper", yref="paper", x0=px(34), x1=px(46), y0=py(1505), y1=py(1477),
              fillcolor="#000000", line_width=0)
fig.add_shape(type="circle", xref="paper", yref="paper", x0=px(49), x1=px(58), y0=py(1486), y1=py(1477),
              fillcolor="#000000", line_width=0)
fig.add_shape(type="path", xref="paper", yref="paper",
              path=f"M {px(62)} {py(1477)} L {px(76)} {py(1477)} L {px(63)} {py(1505)} L {px(50)} {py(1505)} Z",
              fillcolor="#000000", line_width=0)
fig.add_annotation(xref="paper", yref="paper", x=px(84), y=py(1492), xanchor="left", yanchor="middle",
                   showarrow=False, text="<b>TradingView</b>",
                   font=dict(family=FONT, size=38, color="#000000"))

# axes
x_common = dict(type="date", range=X_RANGE, tickvals=month_ticks, ticktext=month_labels,
                showgrid=True, gridcolor=GRID, gridwidth=1.5, zeroline=False, showline=False,
                ticks="", fixedrange=True)
y_common = dict(side="right", showgrid=True, gridcolor=GRID, gridwidth=1.5, zeroline=False,
                showline=False, ticks="", fixedrange=True)

fig.update_layout(
    width=W, height=H, autosize=False,
    margin=dict(l=LEFT, r=W - RIGHT, t=TOP, b=H - BOTTOM),
    paper_bgcolor="white", plot_bgcolor="white",
    showlegend=False, hovermode=False,
    font=dict(family=FONT, size=22, color=TEXT),
    xaxis=dict(**x_common, domain=[0, 1], anchor="y", showticklabels=False),
    xaxis2=dict(**x_common, domain=[0, 1], anchor="y2", matches="x", showticklabels=True,
                tickfont=dict(family=FONT, size=22, color=TEXT), ticklabelstandoff=12),
    yaxis=dict(**y_common, domain=[py(1131), 1], range=[3.676, 5.274], anchor="x",
               tickvals=price_ticks, ticktext=price_tick_labels, ticklabelstandoff=13,
               tickfont=dict(family=NUM_FONT, size=21, color=TEXT)),
    yaxis2=dict(**y_common, domain=[0, py(1132)], range=[19.7, 88.6], anchor="x2",
                tickvals=rsi_ticks, ticktext=rsi_tick_labels, ticklabelstandoff=13,
                tickfont=dict(family=NUM_FONT, size=20, color=TEXT)),
)

# the page's default 8px body margin would shift the whole chart
fig.write_html("out.html", config={"displayModeBar": False},
               post_script="document.body.style.margin='0px';")
